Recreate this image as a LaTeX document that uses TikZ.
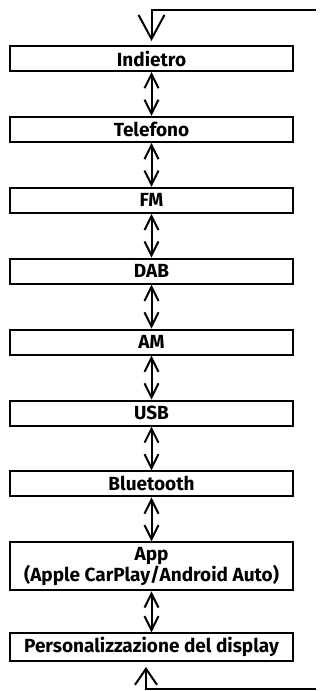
\documentclass[tikz,border=0pt]{standalone}
\usepackage{fontspec}
\setmainfont{Fira Sans}
\usetikzlibrary{arrows.meta,positioning}

\begin{document}
\begin{tikzpicture}[x=1pt,y=1pt,
  menu/.style={draw,line width=2pt,minimum width=283pt,minimum height=25pt,
               inner sep=0pt,font=\fontsize{19}{20}\selectfont\bfseries,align=center},
  dblarr/.style={{Straight Barb[length=14pt,width=14pt]}-{Straight Barb[length=14pt,width=14pt]},line width=2pt},
  looparr/.style={-{Straight Barb[length=24pt,width=26pt]},line width=2pt},
  node distance=43.9pt
]
  \useasboundingbox (0,0) rectangle (322,-691);

  % ── Menu boxes ───────────────────────────────────────────────
  \node[menu,anchor=north] at (151.5,-45) (ind)  {Indietro};
  \node[menu,below=of ind] (tel)  {Telefono};
  \node[menu,below=of tel] (fm)   {FM};
  \node[menu,below=of fm]  (dab)  {DAB};
  \node[menu,below=of dab] (am)   {AM};
  \node[menu,below=of am]  (usb)  {USB};
  \node[menu,below=of usb] (bt)   {Bluetooth};
  \node[menu,below=of bt,minimum height=48pt] (app) {App\\(Apple CarPlay/Android Auto)};
  \node[menu,below=41pt of app,minimum height=28pt] (pers) {Personalizzazione del display};

  \draw[dblarr] (ind.south)--(tel.north); \draw[dblarr] (tel.south)--(fm.north);
  \draw[dblarr] (fm.south)--(dab.north);  \draw[dblarr] (dab.south)--(am.north);
  \draw[dblarr] (am.south)--(usb.north);  \draw[dblarr] (usb.south)--(bt.north);
  \draw[dblarr] (bt.south)--(app.north);  \draw[dblarr] (app.south)--(pers.north);

  % ── Loop ends ────────────────────────────────────────────────
  \coordinate (topR) at (316,-10);
  \coordinate (botR) at (316,-689);
  \coordinate (botIn) at (146,-667);
  \draw[looparr,shorten >=4pt] (topR) -| (ind.north);
  \draw[looparr,-{Straight Barb[length=16pt,width=22pt]}] (botR) -| (botIn);
\end{tikzpicture}
\end{document}
